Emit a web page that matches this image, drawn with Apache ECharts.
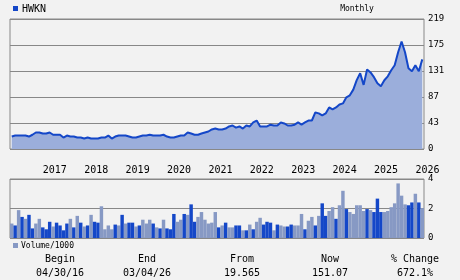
<!DOCTYPE html>
<html><head><meta charset="utf-8">
<script src="https://cdn.jsdelivr.net/npm/echarts@6/dist/echarts.min.js"></script>
<style>html,body{margin:0;padding:0;background:#f2f2f2}#c{width:460px;height:280px}</style>
</head><body><div id="c"></div>
<script>
// ---- data ----
const startYear = 2016, startMonth = 4, monthCount = 120;
const months = [];
for (let k = 0; k < monthCount; k++) {
  const m = (startMonth - 1 + k) % 12 + 1, y = startYear + Math.floor((startMonth - 1 + k) / 12);
  months.push(y + '-' + String(m).padStart(2, '0'));
}
const price = [21,22.7,22.7,22.7,22.7,21,24,27.8,27.8,26,26,27.8,24,24,24,19.3,22.7,21,21,19.3,
  19.3,17.6,19.3,17.6,17.6,17.6,19.3,19.3,22.7,17.6,21,22.7,22.7,22.7,21,19.3,19.3,21,22.7,22.7,
  24,22.7,22.7,22.7,24,21,19.3,19.3,21,22.7,22.7,27.8,26,24,24,26,27.8,29.5,32.9,34.6,
  32.8,32.8,34.5,38,39.6,36,38,34.5,39.6,38,44.7,48,38,38,38,41,39.6,39.6,44.7,43,
  39.6,39.6,41,44.7,41,44.7,48,48,61.6,60,56.5,60,70,66.7,70,75,76.8,87,90.4,100,
  116,127.6,108,134,129,121,110.7,105.6,115.8,122.5,132.7,141,163,181,163,136,131,141,131,151];
const volume = [0.98,0.85,1.89,1.43,1.3,1.57,0.65,0.98,1.3,0.72,0.59,1.1,0.78,1.04,0.85,0.52,0.98,1.3,0.72,1.5,
  1.04,0.78,0.85,1.57,1.1,1.04,2.15,0.59,0.85,0.59,0.91,0.85,1.57,0.98,1.04,1.04,0.78,0.85,1.24,0.98,
  1.24,0.98,0.72,0.65,1.24,0.65,0.59,1.63,1.1,1.24,1.63,1.57,2.28,1.1,1.43,1.76,1.24,0.98,1.04,1.76,
  0.72,0.85,1.04,0.72,0.72,0.85,0.85,0.52,0.52,0.91,0.59,1.1,1.37,0.91,1.1,1.04,0.52,0.91,0.85,0.78,
  0.78,0.91,0.85,0.85,1.63,0.59,1.17,1.43,0.85,1.5,2.35,1.5,1.83,2.09,1.3,2.22,3.2,1.96,1.76,1.63,
  2.22,2.22,1.83,1.96,1.89,1.76,2.67,1.76,1.76,1.83,2.09,2.35,3.7,2.87,2.28,2.22,2.41,3.0,2.41,2.02];
const volumeUp = [0,1,0,1,0,1,1,0,0,1,1,1,0,1,1,1,1,0,1,0,
  1,0,1,0,1,1,0,0,0,0,1,0,1,0,1,1,0,1,0,0,
  0,1,0,1,0,1,1,1,0,0,1,0,1,1,0,0,0,0,0,0,
  1,0,1,0,0,1,1,0,1,0,1,0,0,1,1,1,0,1,0,0,
  1,1,0,0,0,1,0,0,1,0,1,1,0,0,1,0,0,1,0,0,
  0,0,0,1,0,1,1,1,0,0,0,0,0,0,0,1,1,0,1,0];
const priceTicks = [0, 43, 87, 131, 175, 219];
const volumeTicks = [0, 2, 4];
const ticker = 'HWKN', period = 'Monthly', volumeLabel = 'Volume/1000';
const statLabels = ['Begin', 'End', 'From', 'Now', '% Change'];
const statValues = ['04/30/16', '03/04/26', '19.565', '151.07', '672.1%'];

// ---- chart ----
const FONT = 'DejaVu Sans Mono';
const DARK = '#1447c8', LIGHT = '#8799c4', GRIDC = '#888';
const chart = echarts.init(document.getElementById('c'));
const statX = [60, 147, 242, 330, 415];
const graphics = [
  {type:'rect', shape:{x:13, y:6, width:5, height:5}, style:{fill:DARK}},
  {type:'text', x:22, y:9, style:{text:ticker, font:'10px ' + FONT, fill:'#000', textVerticalAlign:'middle'}},
  {type:'text', x:357, y:9, style:{text:period, font:'8px ' + FONT, fill:'#000', textAlign:'center', textVerticalAlign:'middle'}},
  {type:'rect', shape:{x:13, y:243, width:5, height:5}, style:{fill:LIGHT}},
  {type:'text', x:21, y:245.5, style:{text:volumeLabel, font:'8px ' + FONT, fill:'#000', textVerticalAlign:'middle'}}
];
statLabels.forEach((t, i) => {
  graphics.push({type:'text', x:statX[i], y:259, style:{text:t, font:'10px ' + FONT, fill:'#000', textAlign:'center', textVerticalAlign:'middle'}});
  graphics.push({type:'text', x:statX[i], y:273, style:{text:statValues[i], font:'10px ' + FONT, fill:'#000', textAlign:'center', textVerticalAlign:'middle'}});
});
const pStep = priceTicks[priceTicks.length - 1] / (priceTicks.length - 1);
chart.setOption({
  animation: false,
  backgroundColor: '#f2f2f2',
  grid: [
    {left:10, right:36, top:19, height:130, show:true, borderColor:GRIDC, borderWidth:1, backgroundColor:'transparent'},
    {left:10, right:36, top:179, height:59, show:true, borderColor:GRIDC, borderWidth:1, backgroundColor:'transparent'}
  ],
  xAxis: [
    {type:'category', gridIndex:0, data:months, boundaryGap:true,
     axisLine:{show:false}, axisTick:{show:false},
     axisLabel:{interval:(i, v) => v.endsWith('-01'), formatter:v => v.slice(0, 4), align:'left',
       margin:16, fontFamily:FONT, fontSize:10, color:'#000'}},
    {type:'category', gridIndex:1, data:months, boundaryGap:true,
     axisLine:{show:false}, axisTick:{show:false}, axisLabel:{show:false}}
  ],
  yAxis: [
    {type:'value', gridIndex:0, position:'right', min:0, max:priceTicks[priceTicks.length - 1], interval:pStep,
     axisLine:{show:false}, axisTick:{show:false},
     splitLine:{show:true, lineStyle:{color:GRIDC, width:1}},
     axisLabel:{margin:4, fontFamily:FONT, fontSize:9, color:'#000',
       formatter:v => { let best = priceTicks[0]; priceTicks.forEach(t => { if (Math.abs(t - v) < Math.abs(best - v)) best = t; }); return String(best); }}},
    {type:'value', gridIndex:1, position:'right', min:volumeTicks[0], max:volumeTicks[volumeTicks.length - 1], interval:volumeTicks[1] - volumeTicks[0],
     axisLine:{show:false}, axisTick:{show:false},
     splitLine:{show:true, lineStyle:{color:GRIDC, width:1}},
     axisLabel:{margin:4, fontFamily:FONT, fontSize:9, color:'#000'}}
  ],
  series: [
    {type:'line', xAxisIndex:0, yAxisIndex:0, data:price, symbol:'none', smooth:false,
     lineStyle:{color:DARK, width:2}, areaStyle:{color:'#9baedb', opacity:1}, z:2},
    {type:'bar', xAxisIndex:1, yAxisIndex:1, barWidth:'100%', barGap:'0%',
     data:volume.map((v, i) => ({value:v, itemStyle:{color: volumeUp[i] ? DARK : LIGHT, borderWidth:0}}))}
  ],
  graphic: graphics
});
</script>
</body></html>
